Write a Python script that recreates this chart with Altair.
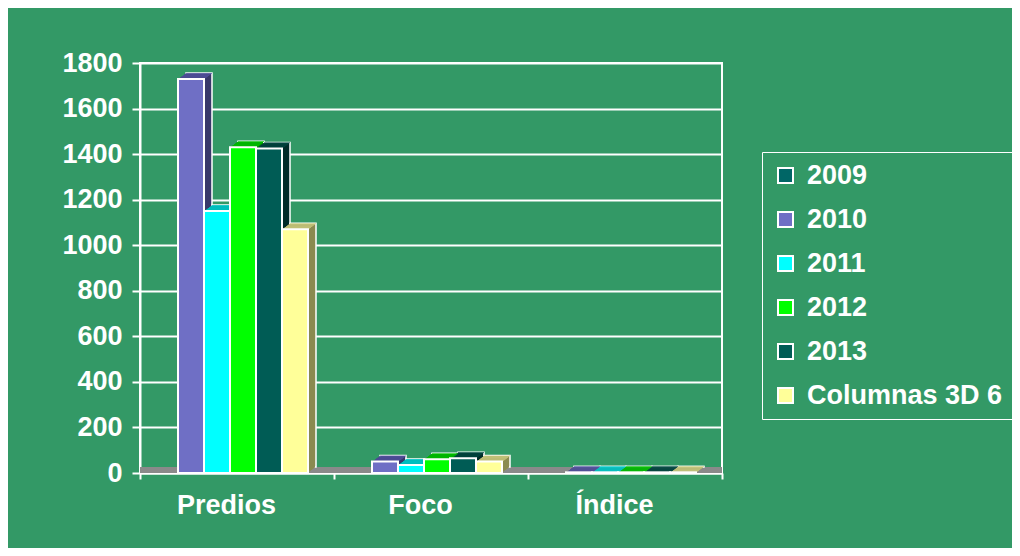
import altair as alt
import pandas as pd

categories = ["Predios", "Foco", "Índice"]
series = ["2009", "2010", "2011", "2012", "2013", "Columnas 3D 6"]
v2009 = [0, 0, 0]
v2010 = [1730, 50, 3]
v2011 = [1150, 35, 3]
v2012 = [1430, 60, 3]
v2013 = [1425, 65, 3]
vcol6 = [1070, 50, 3]
front_colors = ["#006666", "#6F6FC5", "#00FFFF", "#00FF00", "#005C55", "#FFFF99"]
top_colors = ["#004C4C", "#5252A0", "#00C8C8", "#00C000", "#004842", "#CCCC80"]
side_colors = ["#003333", "#38386A", "#009999", "#009000", "#002B28", "#8A8A50"]
y_ticks = [0, 200, 400, 600, 800, 1000, 1200, 1400, 1600, 1800]

values = [v2009, v2010, v2011, v2012, v2013, vcol6]
rows = []
for s, vals, tc, sc in zip(series, values, top_colors, side_colors):
    for c, v in zip(categories, vals):
        rows.append({"cat": c, "serie": s, "valor": v, "top": tc, "side": sc})
df = pd.DataFrame(rows)
floor_df = pd.DataFrame({"cat": categories, "valor": [0, 0, 0]})

FONT = "Liberation Sans"
FS = 27
DEPTH_X = 8
DEPTH_Y = 6
STEPS = 8

x_enc = alt.X("cat:N", sort=categories,
              scale=alt.Scale(domain=categories, paddingInner=0, paddingOuter=0),
              axis=alt.Axis(title=None, labelAngle=0, labelFontSize=FS, labelFont=FONT,
                            labelFontWeight="bold", labelColor="white", labelPadding=13,
                            labelOffset=-11,
                            domainColor="white", domainWidth=2, tickColor="white",
                            tickWidth=2, tickSize=6, tickBand="extent"))
y_enc = alt.Y("valor:Q", scale=alt.Scale(domain=[0, 1800]),
              axis=alt.Axis(title=None, values=y_ticks, format="d", labelFontSize=FS,
                            labelFont=FONT, labelFontWeight="bold", labelColor="white",
                            labelPadding=10, domainColor="white", domainWidth=2,
                            tickColor="white", tickWidth=2, tickSize=8, gridColor="white",
                            gridWidth=2, gridOpacity=1))


def xoff(shift):
    return alt.XOffset("serie:N", sort=series,
                       scale=alt.Scale(domain=series, range=[12 + shift, 168 + shift]))


base = alt.Chart(df).transform_filter("datum.valor > 0")

floor = alt.Chart(floor_df).mark_rule(color="#8A8A8A", strokeWidth=6, yOffset=-3).encode(
    x=alt.value(0), x2=alt.value(582), y=y_enc
)

layers = [floor]
# side (extrusion) layers, back to front
for k in range(STEPS, 0, -1):
    dx = DEPTH_X * k / STEPS
    dy = DEPTH_Y * k / STEPS
    props = dict(yOffset=-dy)
    if k == STEPS:
        props.update(stroke="white", strokeWidth=1.5)
    layers.append(base.mark_bar(**props).encode(
        x=x_enc, xOffset=xoff(dx), y=y_enc,
        color=alt.Color("side:N", scale=None, legend=None),
    ))
# top face slices
for k in range(1, STEPS + 1):
    dx = DEPTH_X * k / STEPS
    dy = DEPTH_Y * k / STEPS
    dy0 = DEPTH_Y * (k - 1) / STEPS
    layers.append(base.mark_bar(yOffset=-dy, y2Offset=-dy0).encode(
        x=x_enc, xOffset=xoff(dx), y=y_enc, y2=alt.Y2("valor:Q"),
        color=alt.Color("top:N", scale=None, legend=None),
    ))

front = base.mark_bar(stroke="white", strokeWidth=2).encode(
    x=x_enc,
    xOffset=xoff(0),
    y=y_enc,
    color=alt.Color("serie:N", sort=series,
                    scale=alt.Scale(domain=series, range=front_colors),
                    legend=alt.Legend(title=None, orient="none", legendX=622, legendY=89,
                                      strokeColor="white", padding=10,
                                      labelFontSize=FS, labelFont=FONT, labelFontWeight="bold",
                                      labelColor="white", labelLimit=400, labelOffset=8,
                                      symbolType="square", symbolSize=225,
                                      symbolStrokeColor="white", symbolStrokeWidth=2,
                                      symbolOpacity=1, rowPadding=16)),
)
layers.append(front)

chart = alt.layer(*layers).resolve_scale(
    color="independent", xOffset="independent"
).properties(
    width=582, height=410,
    background="#339966",
    padding={"left": 132, "top": 55, "right": 290, "bottom": 75},
    autosize=alt.AutoSizeParams(type="none"),
).configure_view(stroke="white", strokeWidth=2)

chart.save("out.html", embed_options={"renderer": "svg", "actions": False})
